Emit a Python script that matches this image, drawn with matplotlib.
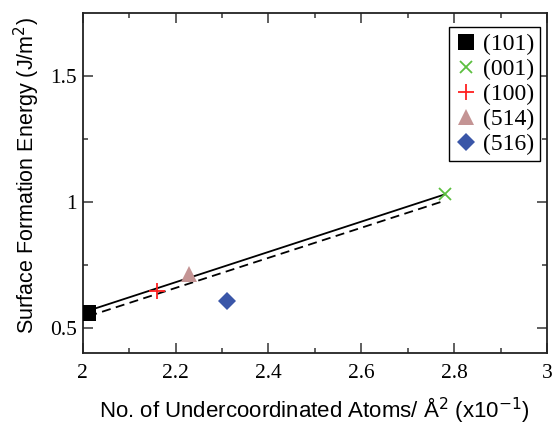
import matplotlib
matplotlib.use("Agg")
import matplotlib.pyplot as plt
from matplotlib.ticker import FixedLocator

# data
labels = ["(101)", "(001)", "(100)", "(514)", "(516)"]
x_vals = [2.012, 2.78, 2.16, 2.228, 2.31]
y_vals = [0.557, 1.03, 0.647, 0.715, 0.607]
markers = ["s", "x", "+", "^", "D"]
colors = ["#000000", "#5cbf3f", "#ff2020", "#c49494", "#3a56a8"]
sizes = [11, 9, 12, 11, 9]

fit_x = [2.012, 2.78]
fit_solid_y = [0.568, 1.03]
fit_dashed_y = [0.546, 1.005]

xticks = [2.0, 2.2, 2.4, 2.6, 2.8, 3.0]
xtick_labels = ["2", "2.2", "2.4", "2.6", "2.8", "3"]
yticks = [0.5, 1.0, 1.5]
ytick_labels = ["0.5", "1", "1.5"]

fig = plt.figure(figsize=(5.59, 4.24), dpi=100)
ax = fig.add_axes([0.148, 0.1675, 0.8305, 0.8015])

ax.plot(fit_x, fit_solid_y, "-", color="black", lw=1.3, zorder=2)
ax.plot(fit_x, fit_dashed_y, "--", color="black", lw=1.3, dashes=(5, 3), zorder=2)

for lab, xv, yv, m, c, s in zip(labels, x_vals, y_vals, markers, colors, sizes):
    kw = dict(marker=m, color=c, linestyle="none", markersize=s, label=lab, zorder=3)
    if m in ("x", "+"):
        kw["markeredgewidth"] = 1.3
    else:
        kw["markeredgewidth"] = 0
    ax.plot([xv], [yv], **kw)

ax.set_xlim(2, 3)
ax.set_ylim(0.4, 1.75)
ax.set_xticks(xticks)
ax.set_xticklabels(xtick_labels)
ax.set_yticks(yticks)
ax.set_yticklabels(ytick_labels)
ax.xaxis.set_minor_locator(FixedLocator([2.1, 2.3, 2.5, 2.7, 2.9]))
ax.yaxis.set_minor_locator(FixedLocator([0.75, 1.25]))

ax.tick_params(which="both", direction="in", top=True, right=True, color="#444444", width=1.2)
ax.tick_params(which="major", length=7)
ax.tick_params(which="minor", length=3.5)
ax.tick_params(axis="x", which="major", labelsize=15.5, pad=8)
ax.tick_params(axis="y", which="major", labelsize=15.5, pad=4)
for lbl in ax.get_xticklabels() + ax.get_yticklabels():
    lbl.set_family("Liberation Serif")
for sp in ax.spines.values():
    sp.set_linewidth(1.3)
    sp.set_color("#222222")

ax.set_xlabel(r"No. of Undercoordinated Atoms/ Å$^2$ (x10$^{-1}$)", fontsize=16,
              family="Liberation Sans", labelpad=9)
ax.set_ylabel(r"Surface Formation Energy (J/m$^2$)", fontsize=15.5,
              family="Liberation Sans")
ax.yaxis.set_label_coords(-0.088, 0.523)

leg = ax.legend(loc="upper right", bbox_to_anchor=(0.985, 0.958), frameon=True,
                fancybox=False, edgecolor="black", framealpha=1,
                prop={"family": "Liberation Serif", "size": 17},
                handlelength=1.0, handletextpad=0.2, borderpad=0.25,
                labelspacing=0.15, borderaxespad=0)
leg.get_frame().set_linewidth(1.0)

fig.savefig("out.png", dpi=100)
